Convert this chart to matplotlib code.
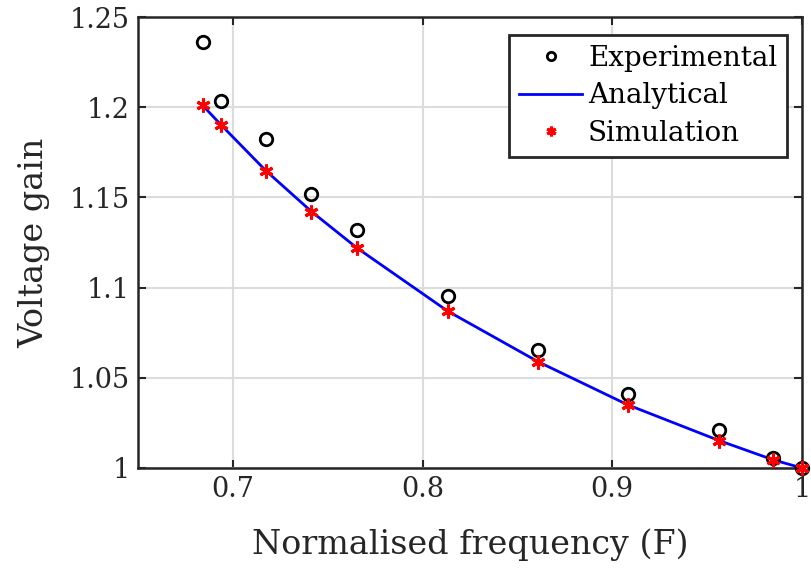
import numpy as np
import matplotlib.pyplot as plt

# normalised frequency points
freq = [0.684, 0.6935, 0.7174, 0.7414, 0.7654, 0.8132, 0.8611, 0.9082, 0.9563, 0.9849, 1.0]
experimental = [1.236, 1.2035, 1.1825, 1.152, 1.1317, 1.0952, 1.0656, 1.0411, 1.0209, 1.0057, 1.0]
simulation = [1.2011, 1.19, 1.1644, 1.1418, 1.1218, 1.0868, 1.0585, 1.0348, 1.015, 1.0043, 1.0]
analytical = [1.2011, 1.1905, 1.1648, 1.1422, 1.1220, 1.0870, 1.0588, 1.0350, 1.0152, 1.0045, 1.0]

xticks = [0.7, 0.8, 0.9, 1.0]
xticklabels = ['0.7', '0.8', '0.9', '1']
yticks = [1.0, 1.05, 1.1, 1.15, 1.2, 1.25]
yticklabels = ['1', '1.05', '1.1', '1.15', '1.2', '1.25']

plt.rcParams['font.family'] = ['DejaVu Serif']

fig = plt.figure(figsize=(8.11, 5.69), dpi=100)
ax = fig.add_axes([138/811, 1 - 468/569, (802-138)/811, (468-17)/569])

ax.plot(freq, experimental, 'o', mfc='none', mec='black', mew=2, ms=9,
        label='Experimental', zorder=4, clip_on=False)
ax.plot(freq, analytical, '-', color='blue', lw=2, label='Analytical', zorder=3, clip_on=False)
ax.plot(freq, simulation, ls='none', marker=(6, 2, 0), color='red', mec='red', mew=2.2, ms=10,
        label='Simulation', zorder=5, clip_on=False)

ax.set_xlim(0.65, 1.0)
ax.set_ylim(1.0, 1.25)
ax.set_xticks(xticks)
ax.set_xticklabels(xticklabels)
ax.set_yticks(yticks)
ax.set_yticklabels(yticklabels)
ax.grid(True, color='#dcdcdc', lw=1.5)
ax.set_axisbelow(True)

ax.tick_params(direction='in', length=6, width=1.5, colors='#262626', labelsize=19.5,
               top=True, right=True, pad=6)
for sp in ax.spines.values():
    sp.set_linewidth(1.8)
    sp.set_color('#262626')

ax.set_xlabel('Normalised frequency (F)', fontsize=24, color='#262626', labelpad=18)
ax.set_ylabel('Voltage gain', fontsize=24, color='#262626', labelpad=14)

leg = ax.legend(loc='upper right', bbox_to_anchor=(787/811, 1 - 35/569), bbox_transform=fig.transFigure,
                fontsize=20, frameon=True, fancybox=False, borderpad=0.35, labelspacing=0.38,
                handlelength=2.3, handletextpad=0.2, borderaxespad=0)
leg.get_frame().set_edgecolor('#262626')
leg.get_frame().set_linewidth(2)
leg.get_frame().set_alpha(1)
hs = leg.legend_handles
hs[0].set_markersize(6)
hs[2].set_markersize(7)

fig.savefig('out.png', dpi=100)
